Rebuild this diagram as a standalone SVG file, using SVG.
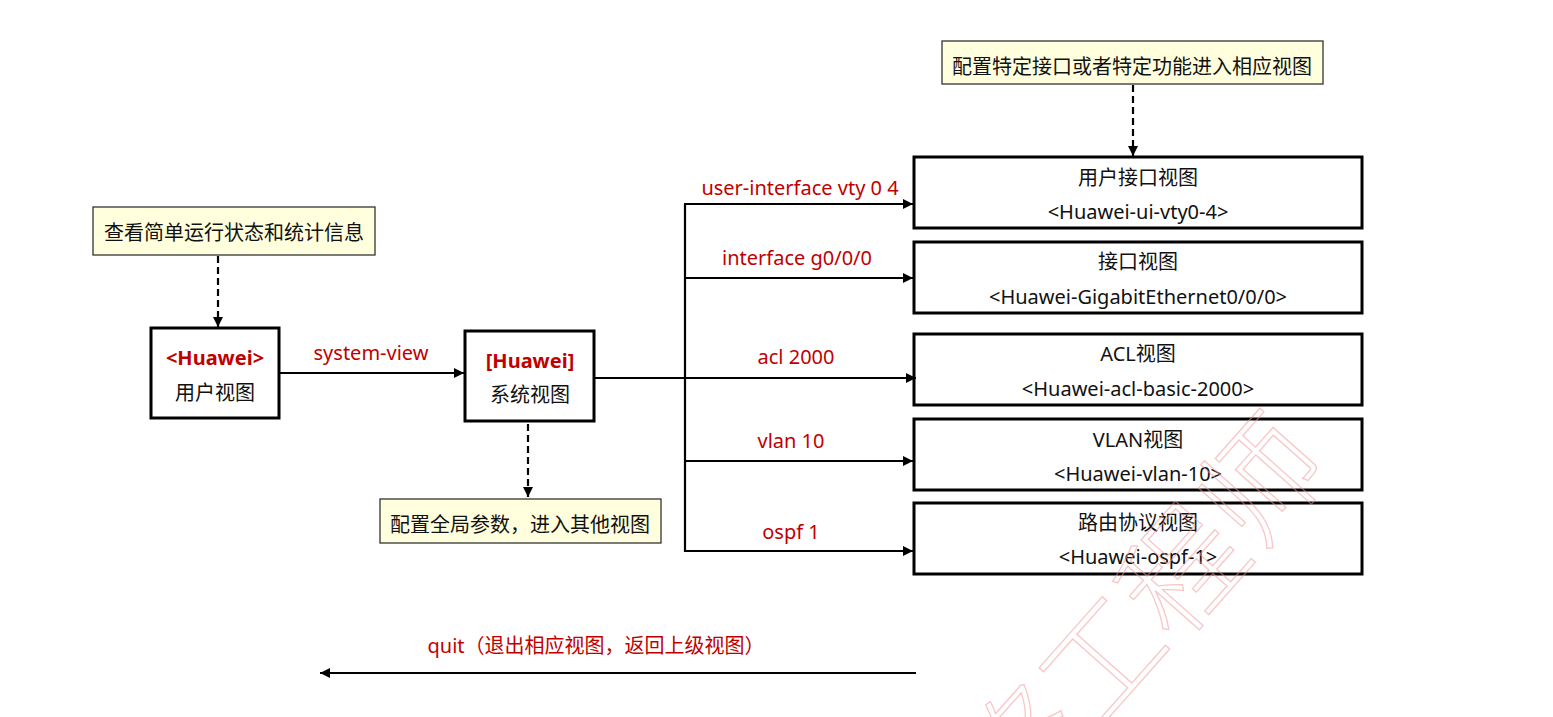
<svg xmlns="http://www.w3.org/2000/svg" width="1553" height="717" viewBox="0 0 1553 717">
<style>
text{font-family:"Noto Sans","Open Sans","Noto Sans CJK SC",sans-serif;font-size:20px;text-anchor:middle;fill:#111}
.red{fill:#C00000}
.bold{font-weight:bold}
.note{fill:#FFFFDD;stroke:#333;stroke-width:1.3}
.box{fill:none;stroke:#000;stroke-width:3}
.ln{fill:none;stroke:#000;stroke-width:2.2}
.dash{fill:none;stroke:#000;stroke-width:2.2;stroke-dasharray:7,4}
.wm{font-family:"Noto Sans CJK SC",sans-serif;font-size:120px;font-weight:300;fill:none;stroke:#F39A9A;stroke-width:1.3;opacity:0.55}
</style>
<defs>
<marker id="arr" viewBox="0 0 10 10" refX="10" refY="5" markerWidth="10" markerHeight="10" markerUnits="userSpaceOnUse" orient="auto">
<path d="M0,0 L10,5 L0,10 Z" fill="#000"/>
</marker>
</defs>
<rect width="1553" height="717" fill="#fff"/>

<g id="note-user">
<rect class="note" x="93" y="207" width="282" height="48"/>
<text x="234" y="240" font-size="19">查看简单运行状态和统计信息</text>
</g>
<g id="user-view">
<rect class="box" x="151" y="328" width="128" height="90"/>
<text class="red bold" x="215" y="365">&lt;Huawei&gt;</text>
<text x="215" y="400" font-size="19">用户视图</text>
</g>
<g id="system-view">
<rect class="box" x="465" y="331" width="129" height="90"/>
<text class="red bold" x="530" y="368">[Huawei]</text>
<text x="530" y="402" font-size="19">系统视图</text>
</g>
<g id="note-system">
<rect class="note" x="380" y="499" width="281" height="44"/>
<text x="520" y="532" font-size="19">配置全局参数，进入其他视图</text>
</g>
<g id="note-specific">
<rect class="note" x="942" y="41" width="381" height="43"/>
<text x="1132" y="74" font-size="19">配置特定接口或者特定功能进入相应视图</text>
</g>
<g id="ui-view">
<rect class="box" x="914" y="157" width="448" height="71"/>
<text x="1138" y="185" font-size="19">用户接口视图</text>
<text x="1138" y="219">&lt;Huawei-ui-vty0-4&gt;</text>
</g>
<g id="if-view">
<rect class="box" x="914" y="242" width="448" height="71"/>
<text x="1138" y="269" font-size="19">接口视图</text>
<text x="1138" y="304">&lt;Huawei-GigabitEthernet0/0/0&gt;</text>
</g>
<g id="acl-view">
<rect class="box" x="914" y="334" width="448" height="71"/>
<text x="1138" y="361" font-size="19">ACL视图</text>
<text x="1138" y="396">&lt;Huawei-acl-basic-2000&gt;</text>
</g>
<g id="vlan-view">
<rect class="box" x="914" y="419" width="448" height="71"/>
<text x="1138" y="447" font-size="19">VLAN视图</text>
<text x="1138" y="481">&lt;Huawei-vlan-10&gt;</text>
</g>
<g id="ospf-view">
<rect class="box" x="914" y="503" width="448" height="71"/>
<text x="1138" y="530" font-size="19">路由协议视图</text>
<text x="1138" y="564">&lt;Huawei-ospf-1&gt;</text>
</g>

<g id="connectors">
<line class="dash" x1="218" y1="256" x2="218" y2="327" marker-end="url(#arr)"/>
<line class="ln" x1="279" y1="373" x2="464" y2="373" marker-end="url(#arr)"/>
<line class="dash" x1="528" y1="424" x2="528" y2="497" marker-end="url(#arr)"/>
<line class="dash" x1="1133" y1="85" x2="1133" y2="156" marker-end="url(#arr)"/>
<line class="ln" x1="594" y1="378" x2="916" y2="378" marker-end="url(#arr)"/>
<line class="ln" x1="685" y1="204" x2="685" y2="552"/>
<line class="ln" x1="684" y1="204" x2="913" y2="204" marker-end="url(#arr)"/>
<line class="ln" x1="684" y1="278" x2="913" y2="278" marker-end="url(#arr)"/>
<line class="ln" x1="684" y1="461" x2="913" y2="461" marker-end="url(#arr)"/>
<line class="ln" x1="684" y1="551" x2="913" y2="551" marker-end="url(#arr)"/>
<line class="ln" x1="916" y1="673" x2="320" y2="673" marker-end="url(#arr)"/>
<text class="red" x="371" y="360">system-view</text>
<text class="red" x="800" y="195">user-interface vty 0 4</text>
<text class="red" x="797" y="265">interface g0/0/0</text>
<text class="red" x="796" y="364">acl 2000</text>
<text class="red" x="791" y="448">vlan 10</text>
<text class="red" x="791" y="539">ospf 1</text>
<text class="red" x="596" y="653">quit（退出相应视图，返回上级视图）</text>
</g>

<g id="watermark" transform="translate(1096,655) rotate(-48.4)">
<text class="wm" x="0" y="0" dominant-baseline="central">网络工程师</text>
</g>
</svg>
